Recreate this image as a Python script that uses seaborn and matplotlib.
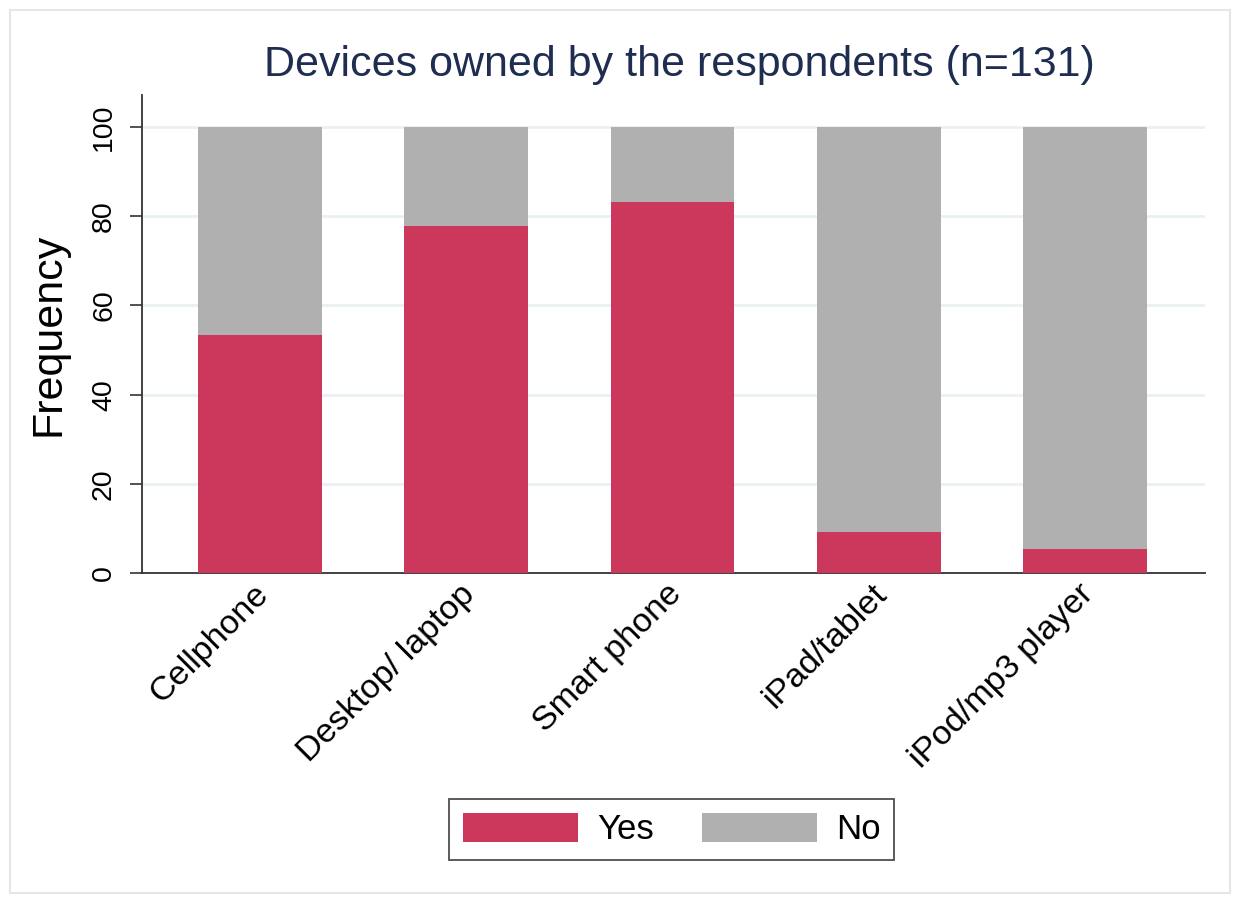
import matplotlib
matplotlib.use("Agg")
import matplotlib.pyplot as plt
import matplotlib.transforms as mtrans
import seaborn as sns
import pandas as pd
from matplotlib.patches import Rectangle, Patch

devices = ["Cellphone", "Desktop/ laptop", "Smart phone", "iPad/tablet", "iPod/mp3 player"]
yes_pct = [53.4, 77.9, 83.2, 9.2, 5.3]
no_pct = [46.6, 22.1, 16.8, 90.8, 94.7]
yticks = [0, 20, 40, 60, 80, 100]

RED = "#cc375c"
GREY = "#b0b0b0"

sns.set_theme(style="white")
plt.rcParams["font.family"] = ["Liberation Sans", "DejaVu Sans"]
plt.rcParams["text.color"] = "black"
plt.rcParams["axes.labelcolor"] = "black"
plt.rcParams["xtick.color"] = "black"
plt.rcParams["ytick.color"] = "black"

df = pd.DataFrame({"device": devices, "yes": yes_pct,
                   "total": [y + n for y, n in zip(yes_pct, no_pct)]})

fig = plt.figure(figsize=(12.35, 8.98), dpi=100)
ax = fig.add_axes([0.115, 0.3619, 0.8607, 0.5323])

sns.barplot(data=df, x="device", y="total", color=GREY, width=0.6,
            saturation=1, ax=ax, zorder=2, linewidth=0)
sns.barplot(data=df, x="device", y="yes", color=RED, width=0.6,
            saturation=1, ax=ax, zorder=3, linewidth=0)

ax.set_xlim(-0.57, 4.58)
ax.set_ylim(0, 107.2)
ax.tick_params(axis="y", length=9, width=1.2, color="#333333", pad=9, left=True)
ax.tick_params(axis="x", length=0, pad=4)
ax.set_yticks(yticks)
ax.set_yticklabels([str(t) for t in yticks], rotation=90, va="center", fontsize=20.5)
ax.set_xticks(range(len(devices)))
ax.set_xticklabels(devices, rotation=45, ha="right", rotation_mode="anchor", fontsize=24.5)
offset = mtrans.ScaledTranslation(-7 / 100, 0, fig.dpi_scale_trans)
for lbl in ax.get_xticklabels():
    lbl.set_transform(lbl.get_transform() + offset)
for y in yticks[1:]:
    ax.axhline(y, color="#eaf1f2", lw=2, zorder=1)
ax.set_xlabel("")
ax.set_ylabel("Frequency", fontsize=31, labelpad=16)
for s in ["top", "right"]:
    ax.spines[s].set_visible(False)
for s in ["left", "bottom"]:
    ax.spines[s].set_color("#333333")
    ax.spines[s].set_linewidth(1.3)

fig.text(0.55, 0.928, "Devices owned by the respondents (n=131)", ha="center",
         va="center", fontsize=31, color="#1e2d50")

handles = [Patch(facecolor=RED, edgecolor="none", label="Yes"),
           Patch(facecolor=GREY, edgecolor="none", label="No")]
leg = fig.legend(handles=handles, loc="center", bbox_to_anchor=(0.544, 0.0763),
                 ncol=2, fontsize=25, frameon=True, fancybox=False,
                 handlelength=3.3, handleheight=0.95, handletextpad=0.55,
                 columnspacing=1.4, borderpad=0.4, borderaxespad=0)
leg.get_frame().set_edgecolor("#222222")
leg.get_frame().set_linewidth(1.3)

fig.patches.append(Rectangle((0.008, 0.006), 0.988, 0.983, transform=fig.transFigure,
                             fill=False, edgecolor="#e6e6e6", lw=1.5))

fig.savefig("out.png", dpi=100)
